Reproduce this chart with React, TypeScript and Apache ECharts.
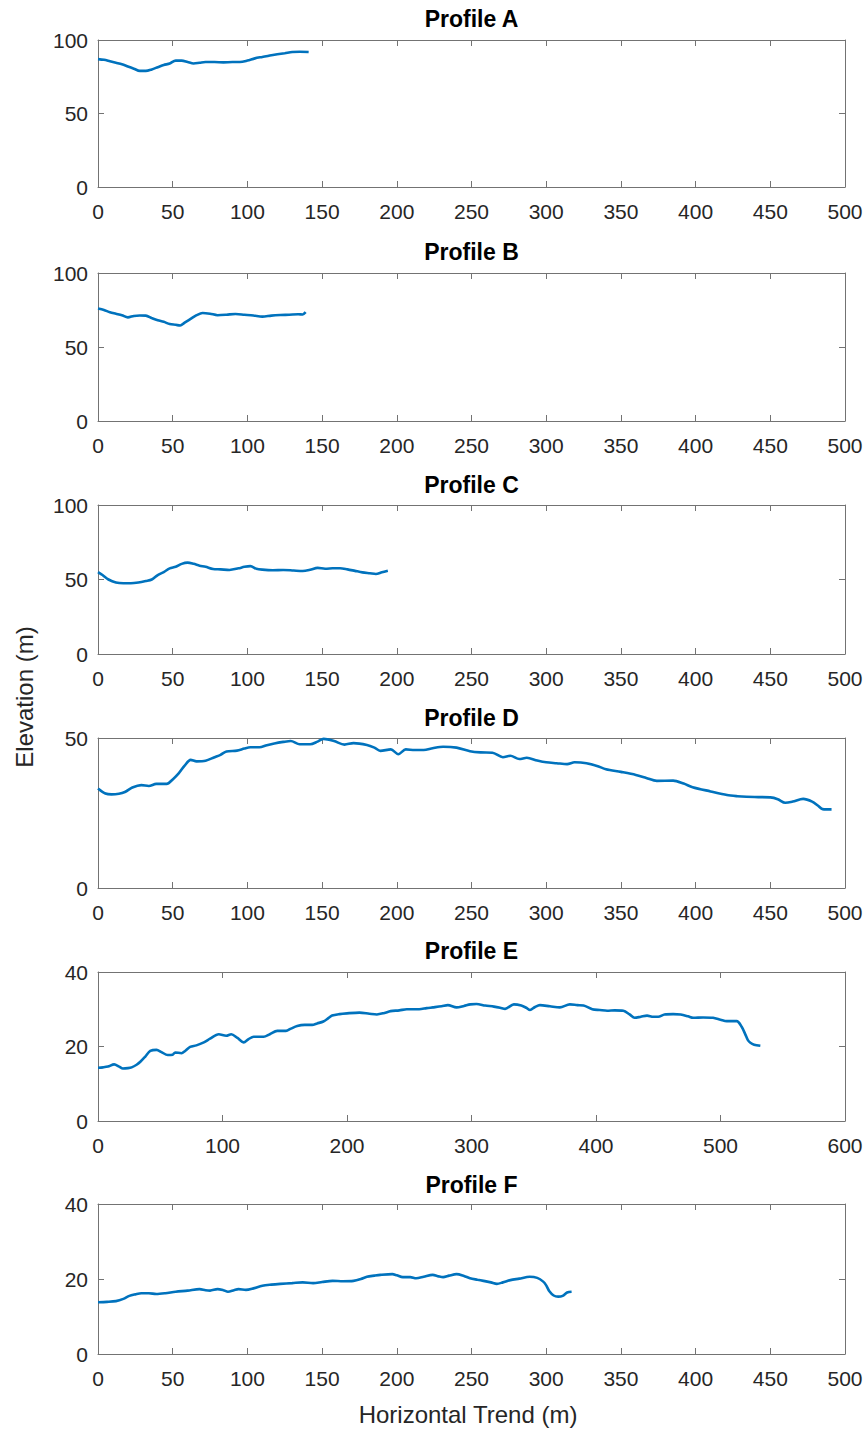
import React, { useEffect, useRef } from "react";
import * as echarts from "echarts";

// ---- Data (horizontal distance m, elevation m) ----
const profileA: number[][] = [[0,87],[4,86.5],[8,85.5],[12,84.5],[16,83.5],[20,82],[24,80.5],[28,79],[32,79],[36,80],[40,81.5],[44,83],[48,84],[52,86],[56,86],[60,85],[64,84],[68,84.5],[72,85],[78,85],[84,84.8],[90,85],[95,85],[100,86],[105,87.5],[110,88.5],[115,89.5],[120,90.3],[125,91],[130,91.8],[135,92],[141,91.8]];
const profileB: number[][] = [[0,76],[4,75],[8,73.5],[12,72.5],[16,71.5],[20,70],[24,71],[28,71.3],[32,71.2],[36,69.5],[40,68],[44,67],[48,65.5],[52,65],[55,64.5],[58,66.5],[62,69],[66,71.5],[70,73],[75,72.5],[80,71.5],[86,71.8],[92,72.3],[98,71.8],[104,71.3],[110,70.5],[116,71.2],[122,71.6],[128,71.8],[134,72.1],[137,72],[139,73.5]];
const profileC: number[][] = [[0,55],[3,53],[7,50],[12,48],[17,47.5],[22,47.5],[27,48],[32,49],[36,50],[40,53],[44,55],[48,57.5],[52,58.5],[56,60.5],[60,61.3],[64,60.5],[68,59.3],[72,58.5],[77,57],[82,56.8],[88,56.4],[94,57.5],[98,58.5],[102,59],[106,57.2],[110,56.6],[117,56.2],[124,56.4],[131,56],[137,55.7],[142,56.5],[147,57.8],[152,57.2],[157,57.5],[162,57.6],[167,56.8],[172,55.8],[177,54.8],[182,54.2],[186,53.7],[190,54.8],[194,55.8]];
const profileD: number[][] = [[0,33.2],[5,31.5],[9,31.2],[14,31.4],[18,32],[23,33.5],[29,34.3],[34,34],[39,34.7],[46,34.7],[50,36.2],[54,38.2],[58,40.8],[62,42.7],[66,42.2],[72,42.4],[78,43.6],[82,44.4],[86,45.5],[93,45.8],[98,46.5],[102,46.9],[108,46.9],[113,47.6],[118,48.2],[124,48.7],[129,49],[135,47.9],[142,47.9],[147,48.8],[151,49.7],[158,49],[165,47.8],[171,48.3],[180,47.7],[185,46.8],[189,45.7],[196,46.2],[201,44.6],[206,46.2],[212,46],[218,46],[224,46.6],[231,47.1],[240,46.8],[249,45.6],[256,45.2],[264,45.1],[271,43.6],[276,44.1],[282,43],[287,43.4],[294,42.5],[300,41.9],[307,41.6],[314,41.3],[319,41.9],[327,41.6],[334,40.7],[340,39.6],[350,38.7],[360,37.7],[367,36.7],[374,35.7],[385,35.8],[392,34.8],[398,33.6],[410,32.2],[421,31],[428,30.6],[434,30.4],[442,30.3],[450,30.2],[455,29.6],[460,28.4],[465,28.8],[472,29.7],[478,28.8],[482,27.4],[485,26.3],[491,26.2]];
const profileE: number[][] = [[0,14.3],[4,14.4],[8,14.6],[13,15.2],[17,14.6],[20,14.1],[24,14.2],[27,14.4],[31,15.1],[34,15.9],[38,17.3],[42,18.8],[47,19.1],[51,18.5],[56,17.7],[60,17.8],[62,18.4],[67,18.2],[70,18.8],[74,19.9],[79,20.3],[85,21.1],[90,22.1],[97,23.3],[103,22.9],[107,23.3],[112,22.3],[117,21.1],[121,22],[125,22.6],[133,22.6],[138,23.3],[144,24.2],[151,24.2],[155,24.8],[160,25.5],[166,25.8],[172,25.8],[176,26.2],[181,26.7],[185,27.6],[188,28.3],[194,28.7],[200,28.9],[210,29.1],[218,28.8],[224,28.6],[230,29],[235,29.5],[242,29.7],[248,30],[258,30],[264,30.3],[269,30.5],[276,30.8],[281,31.1],[288,30.5],[294,30.9],[299,31.3],[304,31.4],[311,31],[318,30.7],[323,30.4],[327,30.1],[334,31.3],[340,31],[344,30.4],[347,29.8],[351,30.6],[355,31.1],[363,30.8],[371,30.5],[379,31.3],[385,31.1],[390,31],[397,30],[403,29.8],[409,29.6],[415,29.7],[422,29.6],[427,28.6],[431,27.7],[436,28],[441,28.3],[446,28],[450,28],[455,28.6],[462,28.7],[468,28.6],[474,28.1],[478,27.7],[486,27.8],[494,27.7],[500,27.2],[505,26.8],[513,26.8],[517,25.3],[520,23.2],[522,21.7],[524,21],[527,20.5],[532,20.2]];
const profileF: number[][] = [[0,13.8],[6,13.9],[12,14.1],[17,14.7],[21,15.5],[25,15.9],[29,16.2],[34,16.2],[39,16],[45,16.2],[52,16.6],[60,16.9],[68,17.3],[72,17],[75,16.9],[80,17.3],[84,17],[87,16.6],[91,17],[94,17.3],[99,17.1],[104,17.5],[110,18.2],[116,18.5],[122,18.7],[130,18.9],[137,19.1],[144,18.9],[150,19.2],[157,19.5],[164,19.4],[171,19.5],[176,20],[180,20.6],[185,20.9],[189,21.1],[197,21.3],[200,21],[204,20.5],[209,20.5],[213,20.2],[218,20.6],[224,21.1],[228,20.7],[231,20.5],[235,20.9],[240,21.3],[245,20.8],[249,20.2],[254,19.8],[258,19.5],[263,19.1],[267,18.7],[271,19.1],[276,19.7],[282,20.1],[289,20.6],[294,20.3],[298,19.3],[300,18.3],[302,16.8],[305,15.6],[308,15.3],[311,15.5],[314,16.4],[317,16.6]];

const titles = ["Profile A", "Profile B", "Profile C", "Profile D", "Profile E", "Profile F"];
const profiles = [profileA, profileB, profileC, profileD, profileE, profileF];
const xMaxes = [500, 500, 500, 500, 600, 500];
const xIntervals = [50, 50, 50, 50, 100, 50];
const yMaxes = [100, 100, 100, 50, 40, 40];
const yIntervals = [50, 50, 50, 50, 20, 20];
const xAxisTitle = "Horizontal Trend (m)";
const yAxisTitle = "Elevation (m)";

// ---- Layout ----
const GRID_LEFT = 98;
const GRID_RIGHT = 23;
const gridTops = [40, 273, 505, 738, 972, 1204];
const gridHeights = [147, 148, 149, 150, 149, 150];
const titleYs = [19, 252, 485, 718, 951, 1185];

const FONT = "'Liberation Sans', Arial, Helvetica, sans-serif";
const TEXT_COLOR = "#262626";
const AXIS_COLOR = "#737373";
const LINE_COLOR = "#0072BD";

export default function App() {
  const ref = useRef<HTMLDivElement>(null);

  useEffect(() => {
    document.body.style.margin = "0";
    if (!ref.current) return;
    const chart = echarts.init(ref.current, undefined, { renderer: "svg" });

    const grid: any[] = [];
    const xAxis: any[] = [];
    const yAxis: any[] = [];
    const series: any[] = [];
    const graphic: any[] = [];

    const axisLine = { show: true, onZero: false, lineStyle: { color: AXIS_COLOR, width: 1 } };
    const axisTick = { show: true, inside: true, length: 6, lineStyle: { color: AXIS_COLOR, width: 1 } };

    profiles.forEach((data, i) => {
      grid.push({ left: GRID_LEFT, right: GRID_RIGHT, top: gridTops[i], height: gridHeights[i], containLabel: false });
      xAxis.push({
        type: "value", gridIndex: i, position: "bottom", min: 0, max: xMaxes[i], interval: xIntervals[i],
        axisLine, axisTick, splitLine: { show: false },
        axisLabel: { show: true, margin: 14, color: TEXT_COLOR, fontSize: 21, fontFamily: FONT },
      });
      xAxis.push({
        type: "value", gridIndex: i, position: "top", min: 0, max: xMaxes[i], interval: xIntervals[i],
        axisLine, axisTick, splitLine: { show: false }, axisLabel: { show: false },
      });
      yAxis.push({
        type: "value", gridIndex: i, position: "left", min: 0, max: yMaxes[i], interval: yIntervals[i],
        axisLine, axisTick, splitLine: { show: false },
        axisLabel: { show: true, margin: 10, color: TEXT_COLOR, fontSize: 21, fontFamily: FONT },
      });
      yAxis.push({
        type: "value", gridIndex: i, position: "right", min: 0, max: yMaxes[i], interval: yIntervals[i],
        axisLine, axisTick, splitLine: { show: false }, axisLabel: { show: false },
      });
      series.push({
        type: "line", xAxisIndex: i * 2, yAxisIndex: i * 2, data, showSymbol: false, symbol: "none",
        smooth: 0.3, lineStyle: { color: LINE_COLOR, width: 2.6 }, silent: true,
      });
      graphic.push({
        type: "text", x: GRID_LEFT + (868 - GRID_LEFT - GRID_RIGHT) / 2, y: titleYs[i],
        style: { text: titles[i], fill: "#000", font: `bold 23px ${FONT}`, align: "center", verticalAlign: "middle" },
      });
    });

    graphic.push({
      type: "text", x: 468, y: 1414,
      style: { text: xAxisTitle, fill: TEXT_COLOR, font: `24px ${FONT}`, align: "center", verticalAlign: "middle" },
    });
    graphic.push({
      type: "text", x: 24, y: 697, rotation: Math.PI / 2,
      style: { text: yAxisTitle, fill: TEXT_COLOR, font: `24px ${FONT}`, align: "center", verticalAlign: "middle" },
    });

    chart.setOption({
      animation: false,
      backgroundColor: "#fff",
      grid, xAxis, yAxis, series, graphic,
    });

    return () => chart.dispose();
  }, []);

  return <div ref={ref} style={{ width: 868, height: 1431 }} />;
}
